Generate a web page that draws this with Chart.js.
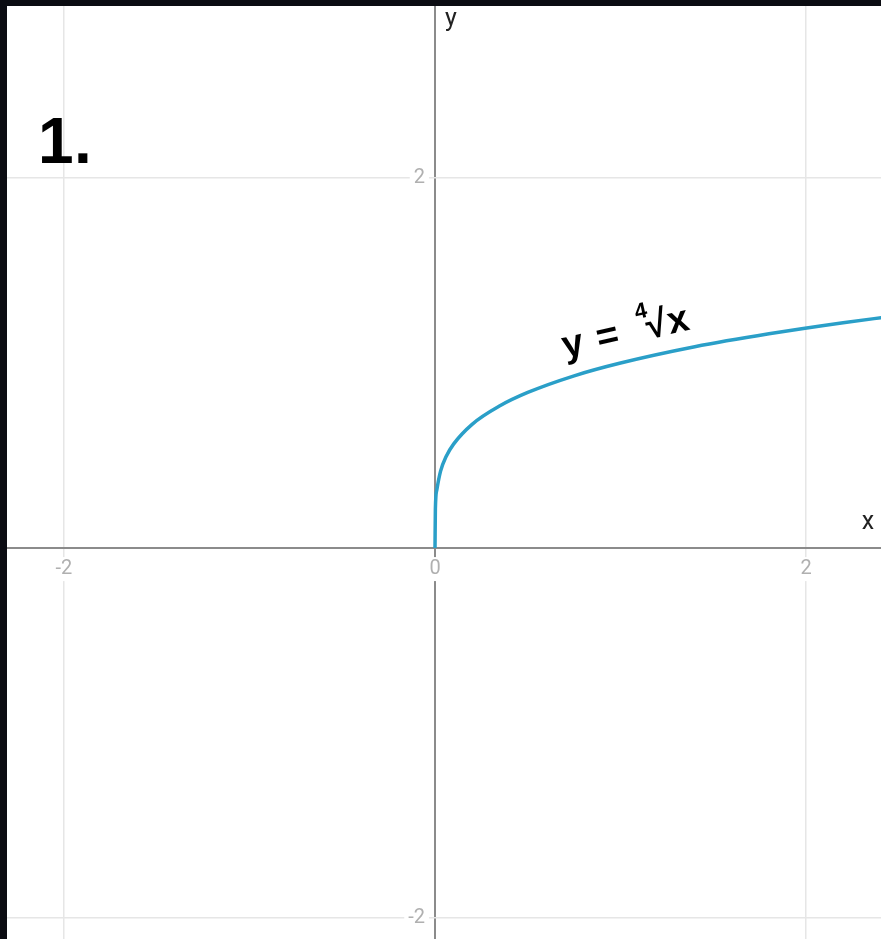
<!DOCTYPE html>
<html>
<head>
<meta charset="utf-8">
<script src="https://cdn.jsdelivr.net/npm/chart.js@4.4.0/dist/chart.umd.min.js"></script>
<style>
  html, body { margin: 0; padding: 0; background: #0b0c12; }
  #wrap { width: 881px; height: 939px; position: relative; }
</style>
</head>
<body>
<div id="wrap"><canvas id="rootChart"></canvas></div>
<script>
// curve points y = fourth root of x
const curveX = [0, 0.002, 0.01, 0.03, 0.06, 0.1, 0.2, 0.35, 0.5, 0.75, 1.0, 1.4, 1.8, 2.2, 2.45];
const curveY = [0, 0.211, 0.316, 0.416, 0.495, 0.562, 0.669, 0.769, 0.841, 0.931, 1.0, 1.088, 1.158, 1.218, 1.251];

const tickValues = [-2, 0, 2];
const tickLabels = ['-2', '0', '2'];
const xRange = [-2.307, 2.404];
const yRange = [-2.113, 2.93];

const curveColor = '#2a9fc8';
const axisColor = '#8b8b8b';
const gridColor = '#e6e6e6';
const labelColor = '#b0b0b0';

const backdrop = {
  id: 'backdrop',
  beforeDraw(chart) {
    const { ctx, chartArea: a } = chart;
    ctx.save();
    ctx.fillStyle = '#0b0c12';
    ctx.fillRect(0, 0, chart.width, chart.height);
    ctx.fillStyle = '#ffffff';
    ctx.fillRect(a.left, a.top, a.right - a.left, a.bottom - a.top);
    ctx.restore();
  }
};

const annotations = {
  id: 'annotations',
  afterDraw(chart) {
    const { ctx } = chart;
    const xs = chart.scales.x, ys = chart.scales.y;
    const x0 = xs.getPixelForValue(0), y0 = ys.getPixelForValue(0);
    ctx.save();
    ctx.font = '20px Roboto, "Liberation Sans", sans-serif';
    ctx.textBaseline = 'middle';

    // x tick labels sit under the axis and cut the grid lines
    ctx.textAlign = 'center';
    tickValues.forEach((v, i) => {
      const px = xs.getPixelForValue(v), py = y0 + 21;
      const w = ctx.measureText(tickLabels[i]).width;
      ctx.fillStyle = '#ffffff';
      ctx.fillRect(px - w / 2 - 4, py - 12, w + 8, 24);
      ctx.fillStyle = labelColor;
      ctx.fillText(tickLabels[i], px, py);
    });

    // y tick labels left of the axis
    ctx.textAlign = 'right';
    tickValues.forEach((v, i) => {
      if (v === 0) return;
      const px = x0 - 10, py = ys.getPixelForValue(v);
      const w = ctx.measureText(tickLabels[i]).width;
      ctx.fillStyle = '#ffffff';
      ctx.fillRect(px - w - 4, py - 12, w + 8, 24);
      ctx.fillStyle = labelColor;
      ctx.fillText(tickLabels[i], px, py);
    });

    // axis names
    ctx.fillStyle = '#222222';
    ctx.textAlign = 'center';
    ctx.font = '25px Roboto, "Liberation Sans", sans-serif';
    ctx.fillText('y', x0 + 16, 20);
    ctx.fillText('x', chart.chartArea.right - 13, y0 - 25);

    // problem number
    ctx.fillStyle = '#000000';
    ctx.textAlign = 'left';
    ctx.textBaseline = 'alphabetic';
    ctx.font = 'bold 64px "Liberation Sans", Arial, sans-serif';
    ctx.fillText('1', 38, 163);
    ctx.fillText('.', 74, 163);

    // curve label, tilted along the line
    ctx.translate(565, 358);
    ctx.rotate(-12.8 * Math.PI / 180);
    ctx.font = 'bold 38px "Liberation Sans", Arial, sans-serif';
    ctx.fillText('y', 0, 0);
    ctx.fillText('=', 35, 0);
    ctx.fillText('\u221A', 86, 0);
    ctx.fillText('x', 108, 0);
    ctx.font = 'bold 22px "Liberation Sans", Arial, sans-serif';
    ctx.fillText('4', 78, -22);
    ctx.restore();
  }
};

new Chart(document.getElementById('rootChart'), {
  type: 'scatter',
  data: {
    datasets: [{
      data: curveX.map((x, i) => ({ x, y: curveY[i] })),
      showLine: true,
      borderColor: curveColor,
      borderWidth: 3.5,
      pointRadius: 0,
      cubicInterpolationMode: 'monotone'
    }]
  },
  options: {
    responsive: true,
    maintainAspectRatio: false,
    animation: false,
    layout: { padding: { left: 7, top: 6, right: 0, bottom: 0 } },
    scales: {
      x: {
        type: 'linear',
        min: xRange[0],
        max: xRange[1],
        afterBuildTicks: s => { s.ticks = tickValues.map(value => ({ value })); },
        ticks: { display: false },
        border: { display: false },
        grid: {
          drawTicks: false,
          color: c => (c.tick && c.tick.value === 0 ? axisColor : gridColor),
          lineWidth: c => (c.tick && c.tick.value === 0 ? 2 : 1.5)
        }
      },
      y: {
        type: 'linear',
        min: yRange[0],
        max: yRange[1],
        afterBuildTicks: s => { s.ticks = tickValues.map(value => ({ value })); },
        ticks: { display: false },
        border: { display: false },
        grid: {
          drawTicks: false,
          color: c => (c.tick && c.tick.value === 0 ? axisColor : gridColor),
          lineWidth: c => (c.tick && c.tick.value === 0 ? 2 : 1.5)
        }
      }
    },
    plugins: { legend: { display: false }, tooltip: { enabled: false } }
  },
  plugins: [backdrop, annotations]
});
</script>
</body>
</html>
